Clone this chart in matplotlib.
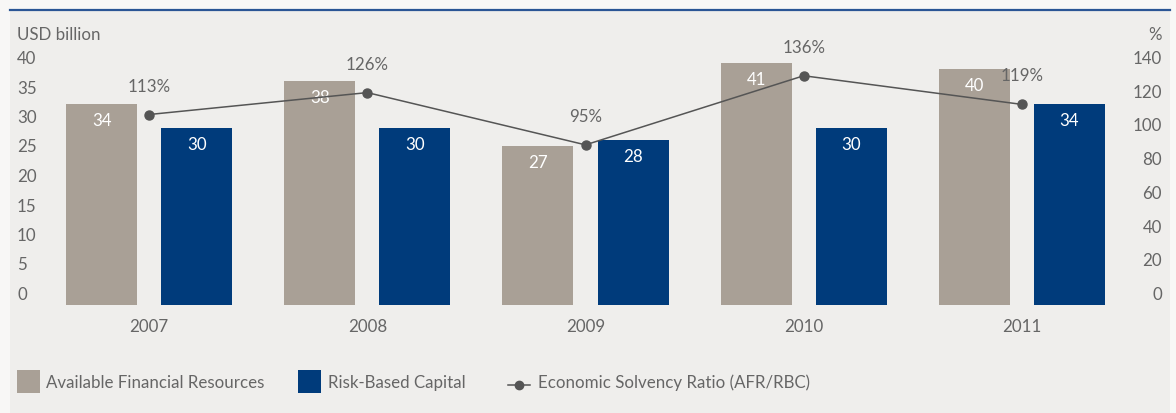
import matplotlib
matplotlib.use("Agg")
import matplotlib.pyplot as plt
import matplotlib.transforms as mtransforms
from matplotlib.patches import Rectangle
from matplotlib.lines import Line2D
import numpy as np

years = ["2007", "2008", "2009", "2010", "2011"]
afr = [34, 38, 27, 41, 40]
rbc = [30, 30, 28, 30, 34]
ratio = [113, 126, 95, 136, 119]
left_ticks = [0, 5, 10, 15, 20, 25, 30, 35, 40]
right_ticks = [0, 20, 40, 60, 80, 100, 120, 140]

W, H = 1176, 413
DPI = 100
plt.rcParams['font.family'] = ['Lato', 'DejaVu Sans']
TXT = "#666666"
C_AFR = "#a9a096"
C_RBC = "#003b7b"
C_LINE = "#555555"

fig = plt.figure(figsize=(W / DPI, H / DPI), dpi=DPI)
fig.patch.set_facecolor("#f8f7f6")
# panel
fig.add_artist(Rectangle((10 / W, 0), 1160 / W, (H - 10) / H, transform=fig.transFigure,
                         facecolor="#efeeec", edgecolor="none", zorder=0))
fig.add_artist(Line2D([10 / W, 1170 / W], [(H - 10) / H] * 2, transform=fig.transFigure,
                      color="#2a5595", lw=1.6, zorder=1))

ax_l, ax_r = 40 / W, 1131 / W
ax_b, ax_t = (H - 305) / H, (H - 69) / H
ax = fig.add_axes([ax_l, ax_b, ax_r - ax_l, ax_t - ax_b])
ax.set_facecolor("none")
ax2 = ax.twinx()
for a in (ax, ax2):
    for s in a.spines.values():
        s.set_visible(False)
    a.set_xticks([])
    a.set_yticks([])

x = np.arange(len(years))
bw = 0.326
off = 0.218
ax.bar(x - off, afr, bw, color=C_AFR, zorder=2, clip_on=False)
ax.bar(x + off, rbc, bw, color=C_RBC, zorder=2, clip_on=False)
ax.set_xlim(-0.5, 4.5)
ax.set_ylim(0, 40)
ax2.set_ylim(0, 140)
ax2.plot(x, ratio, color=C_LINE, lw=1.1, marker="o", markersize=6.5, zorder=3, clip_on=False)

fs = 12.2
for i in range(len(years)):
    ax.annotate(str(afr[i]), (x[i] - off, afr[i]), xytext=(0, -17), textcoords="offset pixels",
                ha="center", va="center", color="white", fontsize=fs, annotation_clip=False)
    ax.annotate(str(rbc[i]), (x[i] + off, rbc[i]), xytext=(0, -17), textcoords="offset pixels",
                ha="center", va="center", color="white", fontsize=fs, annotation_clip=False)
    ax2.annotate(f"{ratio[i]}%", (x[i], ratio[i]), xytext=(0, 28), textcoords="offset pixels",
                 ha="center", va="center", color=TXT, fontsize=fs, annotation_clip=False)
    ax.annotate(years[i], (x[i], 0), xytext=(0, -22), textcoords="offset pixels",
                ha="center", va="center", color=TXT, fontsize=fs, annotation_clip=False)

tl = mtransforms.offset_copy(mtransforms.blended_transform_factory(fig.transFigure, ax.transData),
                             fig=fig, y=10, units="dots")
for t in left_ticks:
    ax.text(17 / W, t, str(t), transform=tl, ha="left", va="center", color=TXT, fontsize=fs)
tr = mtransforms.offset_copy(mtransforms.blended_transform_factory(fig.transFigure, ax2.transData),
                             fig=fig, y=10, units="dots")
for t in right_ticks:
    ax2.text(1162 / W, t, str(t), transform=tr, ha="right", va="center", color=TXT, fontsize=fs)

fig.text(17 / W, (H - 35) / H, "USD billion", ha="left", va="center", color=TXT, fontsize=fs)
fig.text(1162 / W, (H - 35) / H, "%", ha="right", va="center", color=TXT, fontsize=fs)

# legend
ly = (H - 383) / H
fig.add_artist(Rectangle((17 / W, (H - 393) / H), 23 / W, 23 / H, transform=fig.transFigure,
                         facecolor=C_AFR, edgecolor="none"))
fig.text(46 / W, ly, "Available Financial Resources", ha="left", va="center", color=TXT, fontsize=fs)
fig.add_artist(Rectangle((298 / W, (H - 393) / H), 23 / W, 23 / H, transform=fig.transFigure,
                         facecolor=C_RBC, edgecolor="none"))
fig.text(328 / W, ly, "Risk-Based Capital", ha="left", va="center", color=TXT, fontsize=fs)
fig.add_artist(Line2D([508 / W, 530 / W], [(H - 385) / H] * 2, transform=fig.transFigure,
                      color=C_LINE, lw=1.1))
fig.add_artist(Line2D([519 / W], [(H - 385) / H], transform=fig.transFigure,
                      color=C_LINE, marker="o", markersize=6))
fig.text(538 / W, ly, "Economic Solvency Ratio (AFR/RBC)", ha="left", va="center", color=TXT, fontsize=fs)

fig.savefig("out.png", dpi=DPI, facecolor=fig.get_facecolor())
